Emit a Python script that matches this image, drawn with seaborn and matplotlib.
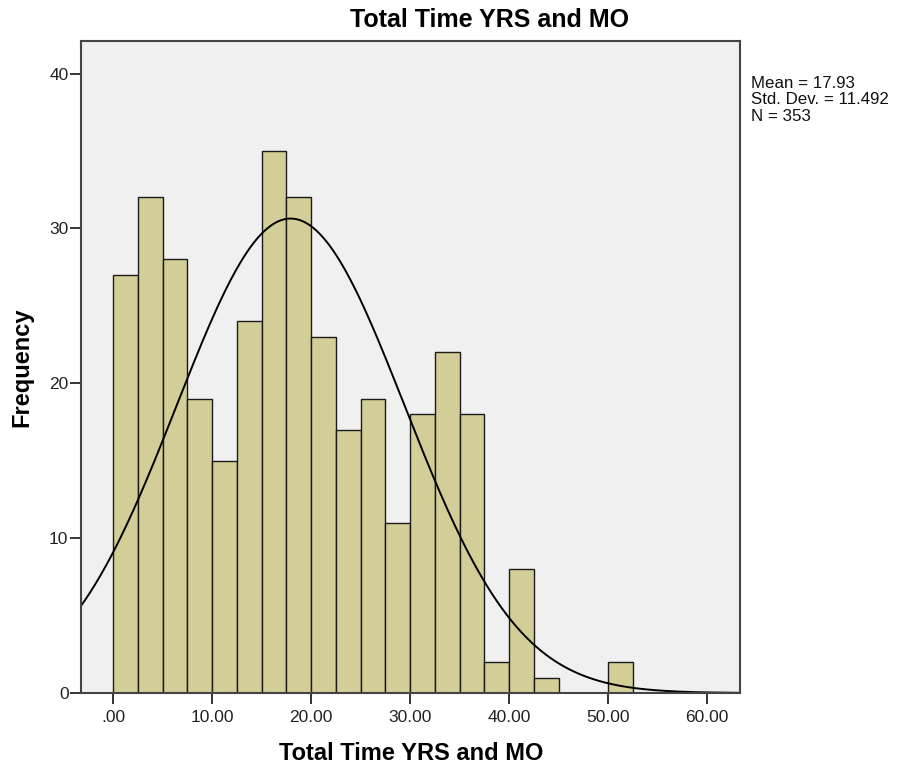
import numpy as np
import pandas as pd
import seaborn as sns
import matplotlib.pyplot as plt

# histogram counts (bin width 2.5, starting at 0)
bin_width = 2.5
counts = [27, 32, 28, 19, 15, 24, 35, 32, 23, 17, 19, 11, 18, 22, 18, 2, 8, 1, 0, 0, 2]
mean_val = 17.93
sd_val = 11.492
n_val = 353
x_ticks = [0, 10, 20, 30, 40, 50, 60]
x_tick_labels = ['.00', '10.00', '20.00', '30.00', '40.00', '50.00', '60.00']
y_ticks = [0, 10, 20, 30, 40]

sns.set_style('white')
plt.rcParams['font.family'] = ['Liberation Sans', 'DejaVu Sans']

fig = plt.figure(figsize=(8.98, 7.7), dpi=100)
ax = fig.add_axes([81 / 898, 1 - 693 / 770, (740 - 81) / 898, (693 - 41) / 770])
ax.set_facecolor('#f0f0f0')

df = pd.DataFrame({'years': np.arange(len(counts)) * bin_width + bin_width / 2,
                   'count': counts})
sns.histplot(data=df, x='years', weights='count', binwidth=bin_width,
             binrange=(0, len(counts) * bin_width), ax=ax,
             color='#d3ce97', alpha=1, edgecolor='#1a1a1a', linewidth=1.0)

# fitted normal curve
xs = np.linspace(-3.3, 63.3, 400)
ys = n_val * bin_width / (sd_val * np.sqrt(2 * np.pi)) * np.exp(-0.5 * ((xs - mean_val) / sd_val) ** 2)
sns.lineplot(x=xs, y=ys, ax=ax, color='black', linewidth=1.4)

ax.set_xlim(-3.23, 63.3)
ax.set_ylim(0, 42.1)
ax.set_xticks(x_ticks)
ax.set_xticklabels(x_tick_labels)
ax.set_yticks(y_ticks)
ax.tick_params(direction='out', length=8, width=1.4, color='#333333',
               labelsize=12.5, labelcolor='#222222', bottom=True, left=True)
ax.tick_params(axis='x', pad=4)
ax.tick_params(axis='y', pad=1)
for s in ax.spines.values():
    s.set_color('#444444')
    s.set_linewidth(1.5)
ax.set_xlabel('')
ax.set_ylabel('')

fig.text(490 / 898, 1 - 20 / 770, 'Total Time YRS and MO', ha='center', va='center',
         fontsize=18, fontweight='bold', color='black')
fig.text(411 / 898, 1 - 754 / 770, 'Total Time YRS and MO', ha='center', va='center',
         fontsize=17, fontweight='bold', color='black')
fig.text(22 / 898, 1 - 367 / 770, 'Frequency', ha='center', va='center',
         rotation=90, fontsize=17, fontweight='bold', color='black')
fig.text(751 / 898, 1 - 76 / 770,
         'Mean = %.2f\nStd. Dev. = %.3f\nN = %d' % (mean_val, sd_val, n_val),
         ha='left', va='top', fontsize=12.2, linespacing=1.12, color='#111111')

fig.savefig('out.png', dpi=100, facecolor='white')
